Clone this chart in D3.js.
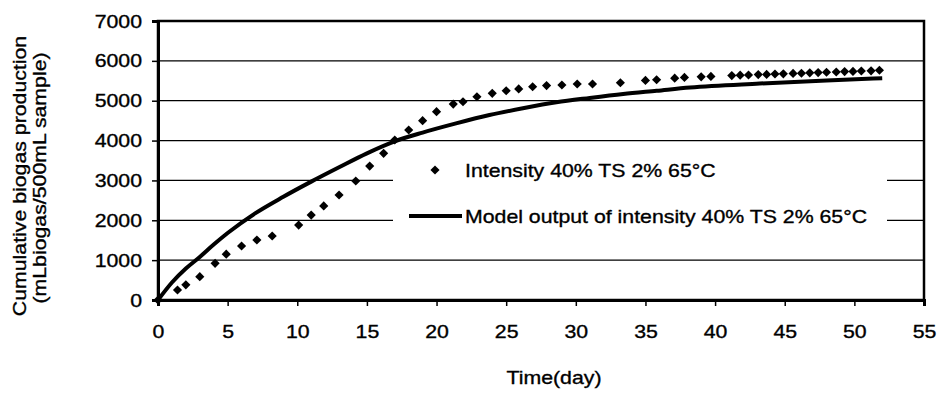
<!DOCTYPE html>
<html>
<head>
<meta charset="utf-8">
<script src="https://cdn.jsdelivr.net/npm/d3@7"></script>
<style>
  html, body { margin: 0; padding: 0; background: #fff; }
  svg { display: block; }
  text { font-family: "Liberation Sans", Arial, Helvetica, sans-serif; fill: #000; stroke: #000; stroke-width: 0.35px; }
</style>
</head>
<body>
<svg id="chart" width="940" height="394"></svg>
<script>
// Measured cumulative biogas (mL biogas / 500 mL sample) by day
const obsDay = [0, 1.4, 2.0, 3.0, 4.1, 4.9, 6.0, 7.1, 8.2,
  10.1, 11.0, 11.9, 13.0, 14.2, 15.2, 16.2, 17.0, 18.0, 19.0,
  20.0, 21.2, 21.9, 22.9, 24.0, 25.0, 25.9, 26.9, 27.9, 29.0,
  30.1, 31.2, 33.2, 35.0, 35.8, 37.1, 37.8, 39.0, 39.7,
  41.2, 41.8, 42.4, 43.1, 43.7, 44.3, 44.9, 45.6, 46.2, 46.8,
  47.4, 48.0, 48.7, 49.3, 49.9, 50.5, 51.2, 51.8];
const obsValue = [0, 250, 380, 585, 920, 1150, 1355, 1505, 1605,
  1880, 2130, 2360, 2635, 2985, 3360, 3680, 4015, 4265, 4500,
  4725, 4915, 4975, 5100, 5185, 5250, 5295, 5350, 5380, 5395,
  5420, 5420, 5450, 5510, 5525, 5565, 5585, 5600, 5610,
  5630, 5640, 5645, 5655, 5660, 5670, 5675, 5685, 5690, 5700,
  5705, 5715, 5720, 5730, 5735, 5745, 5750, 5765];

// Model output curve
const modelDay = [0, 1, 2, 3, 4, 5, 7, 9, 11, 13, 15, 17, 19, 21.4, 23.8,
  26.2, 28.6, 31, 33.4, 35.8, 38.2, 43.2, 48, 52];
const modelValue = [0, 440, 790, 1080, 1390, 1680, 2180, 2590, 2970, 3330, 3680,
  3980, 4200, 4430, 4640, 4810, 4960, 5070, 5170, 5250, 5330, 5430, 5510, 5565];

const xTicks = [0, 5, 10, 15, 20, 25, 30, 35, 40, 45, 50, 55];
const yTicks = [0, 1000, 2000, 3000, 4000, 5000, 6000, 7000];

const seriesObsName = "Intensity 40% TS 2% 65°C";
const seriesModelName = "Model output of intensity 40% TS 2% 65°C";
const xTitle = "Time(day)";
const yTitle1 = "Cumulative biogas production";
const yTitle2 = "(mLbiogas/500mL sample)";

const svg = d3.select("#chart");
const W = 940, H = 394;
const plot = { left: 158, right: 924, top: 21, bottom: 300 };
const FONT = 19;
const WIDEN = 1.12;

svg.append("rect").attr("width", W).attr("height", H).attr("fill", "#fff");

const x = d3.scaleLinear().domain([0, 55]).range([plot.left, plot.right]);
const y = d3.scaleLinear().domain([0, 7000]).range([plot.bottom, plot.top]);

// widen glyph runs slightly (the typeface is broad)
function widen(sel) {
  sel.each(function () {
    const n = this.getComputedTextLength();
    this.setAttribute("textLength", n * WIDEN);
    this.setAttribute("lengthAdjust", "spacingAndGlyphs");
  });
}

// horizontal gridlines
svg.append("g")
  .selectAll("line")
  .data(yTicks.filter(d => d > 0))
  .join("line")
  .attr("x1", plot.left).attr("x2", plot.right)
  .attr("y1", d => y(d)).attr("y2", d => y(d))
  .attr("stroke", "#000").attr("stroke-width", 1.3);

// plot frame
svg.append("rect")
  .attr("x", plot.left).attr("y", plot.top)
  .attr("width", plot.right - plot.left).attr("height", plot.bottom - plot.top)
  .attr("fill", "none").attr("stroke", "#000").attr("stroke-width", 2.5);

// axes
const yAxis = svg.append("g")
  .attr("transform", `translate(${plot.left},0)`)
  .call(d3.axisLeft(y).tickValues(yTicks).tickSize(6).tickPadding(10).tickFormat(d3.format("d")));
const xAxis = svg.append("g")
  .attr("transform", `translate(0,${plot.bottom})`)
  .call(d3.axisBottom(x).tickValues(xTicks).tickSize(6).tickPadding(19).tickFormat(d3.format("d")));

[yAxis, xAxis].forEach(g => {
  g.select(".domain").attr("stroke", "#000").attr("stroke-width", 3);
  g.selectAll(".tick line").attr("stroke", "#000").attr("stroke-width", 1.5);
  g.selectAll(".tick text").attr("font-size", FONT).attr("font-family", null);
  g.attr("font-family", null).attr("font-size", null);
});
widen(yAxis.selectAll(".tick text"));
widen(xAxis.selectAll(".tick text"));

// legend (white box over the grid)
const legend = svg.append("g");
legend.append("rect")
  .attr("x", 393).attr("y", 146).attr("width", 494).attr("height", 109)
  .attr("fill", "#fff");

// model curve
const line = d3.line()
  .x(d => x(d[0]))
  .y(d => y(d[1]))
  .curve(d3.curveMonotoneX);
svg.append("path")
  .datum(modelDay.map((d, i) => [d, modelValue[i]]))
  .attr("d", line)
  .attr("fill", "none")
  .attr("stroke", "#000")
  .attr("stroke-width", 4)
  .attr("stroke-linejoin", "round");

// measured points (diamonds)
const diamond = d3.symbol(d3.symbolSquare, 42);
svg.append("g")
  .selectAll("path")
  .data(obsDay.map((d, i) => [d, obsValue[i]]))
  .join("path")
  .attr("d", diamond)
  .attr("transform", d => `translate(${x(d[0])},${y(d[1])}) rotate(45)`)
  .attr("fill", "#000");

// legend entries
legend.append("path")
  .attr("d", diamond)
  .attr("transform", "translate(435,170) rotate(45)")
  .attr("fill", "#000");
legend.append("text")
  .attr("x", 465).attr("y", 176.5)
  .attr("font-size", FONT)
  .text(seriesObsName);
legend.append("line")
  .attr("x1", 409).attr("x2", 462).attr("y1", 216).attr("y2", 216)
  .attr("stroke", "#000").attr("stroke-width", 4);
legend.append("text")
  .attr("x", 465).attr("y", 223)
  .attr("font-size", FONT)
  .text(seriesModelName);
widen(legend.selectAll("text"));
legend.raise();

// axis titles
const xt = svg.append("text")
  .attr("x", 554).attr("y", 384)
  .attr("text-anchor", "middle")
  .attr("font-size", FONT)
  .text(xTitle);
widen(xt);

const yt = svg.append("g").attr("transform", "translate(0,176) rotate(-90)");
yt.append("text")
  .attr("x", 0).attr("y", 26)
  .attr("text-anchor", "middle")
  .attr("font-size", FONT)
  .text(yTitle1);
yt.append("text")
  .attr("x", -2).attr("y", 46)
  .attr("text-anchor", "middle")
  .attr("font-size", FONT)
  .text(yTitle2);
widen(yt.selectAll("text"));
</script>
</body>
</html>
